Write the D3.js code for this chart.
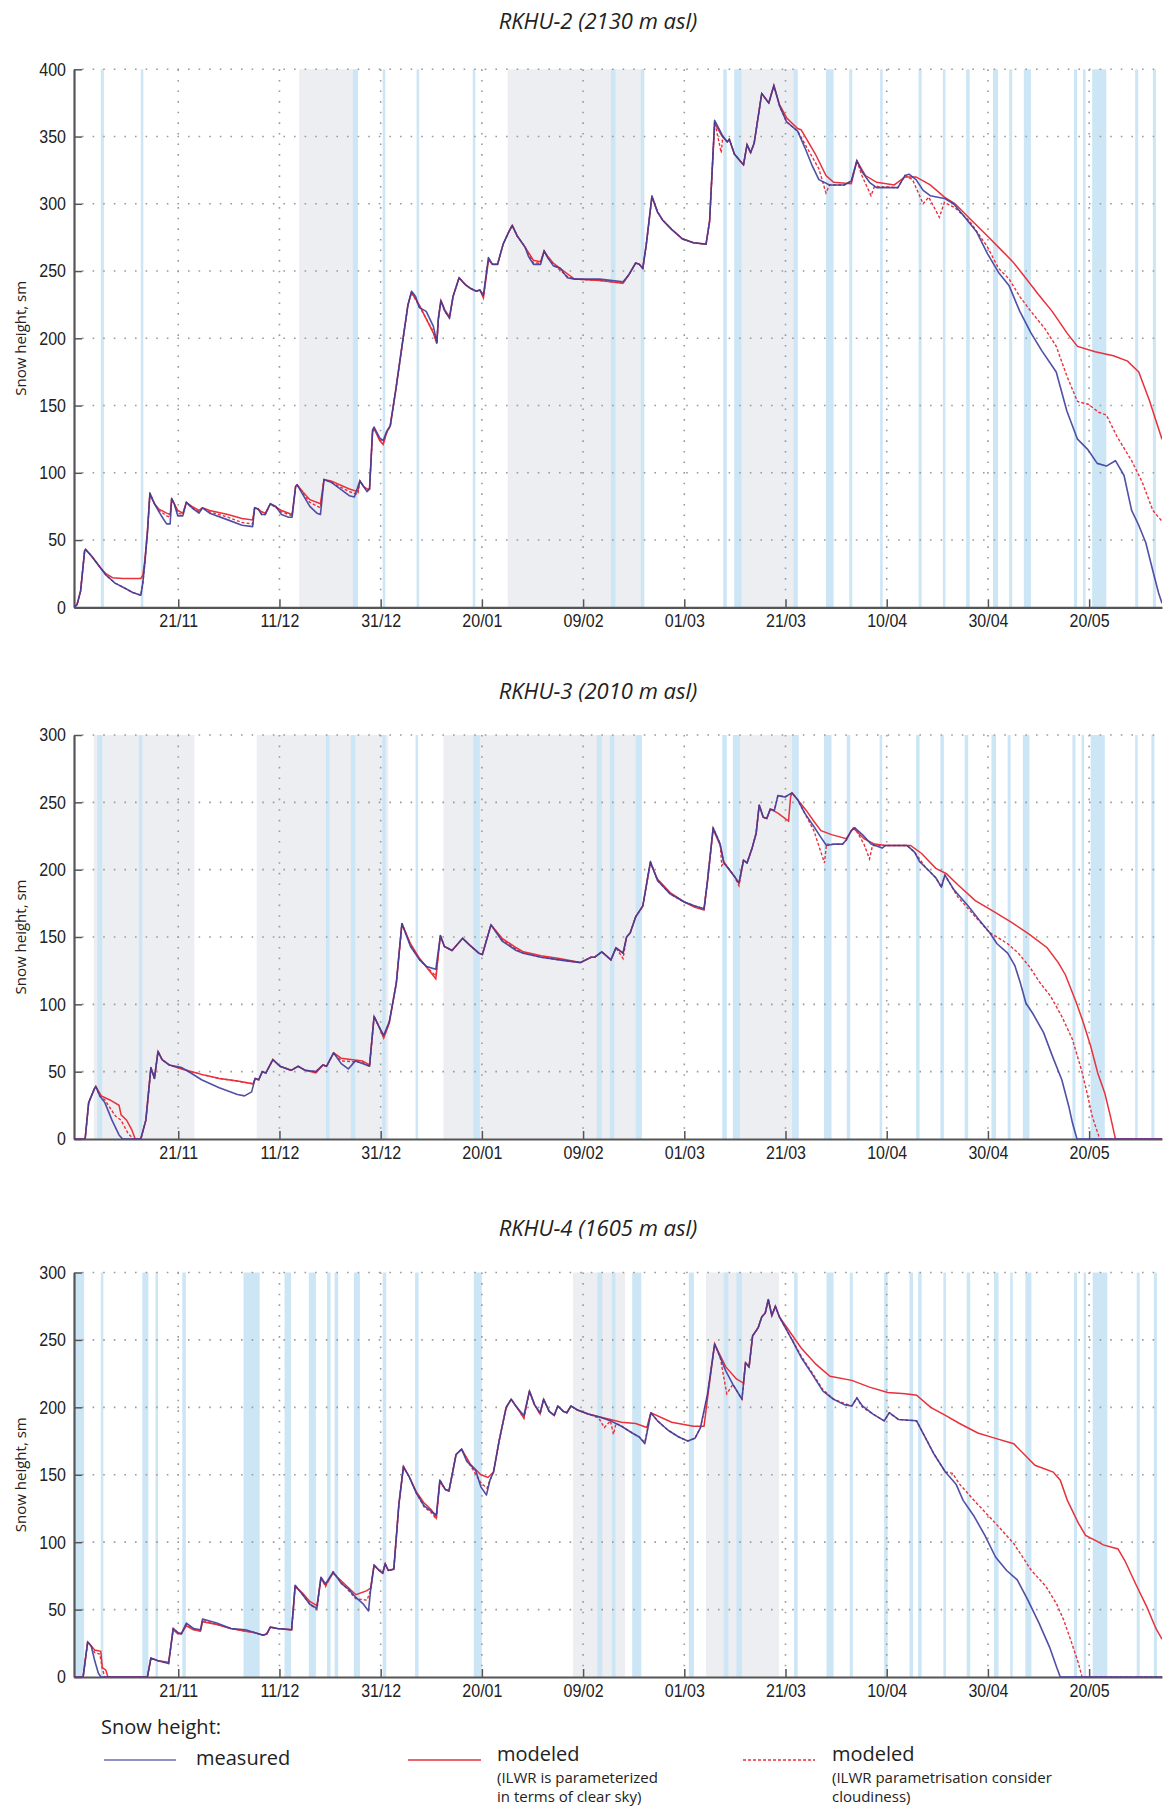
<!DOCTYPE html>
<html>
<head>
<meta charset="utf-8">
<script src="https://cdn.jsdelivr.net/npm/d3@7"></script>
<style>
  html, body { margin: 0; padding: 0; background: #fff; }
  svg { display: block; }
</style>
</head>
<body>
<div id="chart"></div>
<script>
// Snow height at three RKHU stations, measured vs. two model runs.
// x values are days since 1 November, y values are snow height (sm).

const SEASON_START = Date.UTC(2012, 10, 1);
const X_RANGE_DAYS = [-0.6, 214.4];
const TICK_DATES = ["2012-11-21", "2012-12-11", "2012-12-31", "2013-01-20", "2013-02-09",
                    "2013-03-01", "2013-03-21", "2013-04-10", "2013-04-30", "2013-05-20"];

const TITLES = ["RKHU-2 (2130 m asl)", "RKHU-3 (2010 m asl)", "RKHU-4 (1605 m asl)"];
const Y_MAX  = [400, 300, 300];

// ---- RKHU-2 ----
const rkhu2Measured = [[-0.6,0],[0,2],[0.7,12],[1.5,42],[1.7,43],[2.9,38],[4.5,30],[5.7,24],[7.5,18],[9.3,14.5],[11,11],[12.6,9],[13,18],[13.4,33],[13.9,55],[14.4,85],[15.3,77],[16.2,71],[17,66],[17.7,62],[18.4,62],[18.7,81],[19.2,77],[19.9,68],[20.9,68],[21.6,78],[22.7,74],[24.1,70],[24.8,74],[26.2,70],[29.8,65],[32.6,61],[34.7,60],[35.1,74],[35.8,73],[36.5,69],[37.2,69],[38.2,77],[39.3,75],[40.4,69],[41.8,67],[42.5,67],[43.2,90],[43.5,91],[44.6,84],[46,75],[47.4,70],[48.1,69],[48.8,95],[50.2,93],[52.4,87],[53.8,83],[54.8,82],[55.9,94],[56.6,90],[57.3,86],[57.8,88],[58.4,132],[58.7,134],[59.8,126],[60.5,124],[61.2,131],[61.9,135],[63,162],[64.4,199],[65.4,225],[66.1,235],[66.9,231],[67.6,223],[69,220],[70.4,209],[71.1,197],[71.4,215],[71.9,228],[72.7,220],[73.6,215],[74.3,231],[75.5,245],[76.7,240],[77.8,237],[78.9,235],[79.6,236],[80.3,232],[81.3,260],[82.1,255],[83.1,255],[84.2,270],[85.3,279],[86,284],[87,276],[88.5,268],[89.2,261],[90.2,255],[91.6,255],[92.3,265],[93,260],[94.1,254],[95.5,252],[96.9,245],[98.3,244],[103.3,244],[107.9,242],[109,247],[110.4,256],[111.1,255],[111.8,252],[112.5,270],[113.6,306],[114.7,294],[115.7,288],[117.5,281],[119.6,274],[121.8,271],[124.3,270],[125,287],[126,362],[127.5,351],[128.5,346],[128.9,348],[129.9,337],[131,332],[131.7,329],[132.4,344],[133.1,338],[133.8,345],[135.3,382],[136.7,375],[137.7,388],[138.8,373],[140.2,361],[142.4,354],[143.8,342],[145.2,329],[146.6,318],[148.7,314],[151.6,314],[153,317],[154.1,332],[155.1,324],[156.6,316],[158,312],[162.2,312],[163.6,321],[164.4,322],[165.8,318],[167.2,310],[168.6,306],[171.4,304],[173.2,300],[175,292],[177.8,279],[179.9,263],[182.1,249],[184.2,239],[186.3,220],[188.5,204],[190.6,191],[193.5,175],[195.6,146],[197.7,125],[199.8,117],[201.6,107],[203.4,105],[205.2,109],[206.9,98],[208.4,72],[209.8,61],[211.2,48],[212.6,27],[213.7,11],[214.4,3]];

const rkhu2ClearSky = [[-0.6,0],[0,2],[0.7,12],[1.5,42],[1.7,43],[2.9,38],[4.5,30],[5.7,25],[7,22],[9,21.5],[12.6,21.5],[13,24],[13.4,35],[13.9,56],[14.4,84],[15.3,77],[16.2,73],[17.7,70],[18.4,69],[18.7,80],[19.2,77],[19.9,72],[20.9,70],[21.6,78],[22.7,75],[24.1,72],[24.8,74],[26.2,72],[29.8,69],[32.6,66],[34.7,65],[35.1,74],[35.8,73],[36.5,71],[37.2,70],[38.2,77],[40.4,72],[42.5,69],[43.2,90],[43.5,91],[44.6,86],[46,80],[48.1,77],[48.8,95],[50.2,94],[53.8,88],[55.5,86],[55.9,94],[56.6,90],[57.3,88],[57.8,88],[58.4,130],[58.7,133],[59.8,124],[60.5,121],[61.2,130],[61.9,135],[63,162],[64.4,199],[65.4,225],[66.1,234],[67.6,225],[70.4,204],[71.1,196],[71.4,214],[71.9,228],[72.7,221],[73.6,216],[74.3,231],[75.5,245],[76.7,240],[77.8,237],[78.9,235],[79.6,236],[80.3,230],[81.3,258],[82.1,255],[83.1,255],[84.2,270],[85.3,279],[86,284],[87,276],[88.5,268],[90.2,258],[91.6,257],[92.3,265],[93,261],[94.1,256],[96.9,248],[98.3,244],[103.3,243],[107.9,241],[109,247],[110.4,256],[111.1,255],[111.8,252],[112.5,270],[113.6,305],[114.7,294],[115.7,288],[117.5,281],[119.6,274],[121.8,271],[124.3,270],[125,287],[126,360],[127.5,350],[128.5,346],[128.9,348],[129.9,337],[131,332],[131.7,329],[132.4,344],[133.1,338],[133.8,345],[135.3,382],[136.7,375],[137.7,388],[138.8,374],[140.2,364],[142.4,356],[143.1,355],[145.9,337],[148,321],[149.5,316],[153,315],[154.1,332],[155.8,321],[158,316],[161.5,314],[163.6,320],[165.8,320],[168.6,314],[171.4,305],[173.5,300],[176.4,289],[179.9,276],[182.8,265],[184.9,257],[187,247],[189.9,233],[192.7,220],[195.6,204],[197.7,194],[201.2,190],[204.8,187],[207.6,183],[209.8,175],[211.9,154],[214.4,125]];

const rkhu2Cloudy = [[-0.6,0],[0,2],[0.7,12],[1.5,42],[1.7,43],[2.9,38],[4.5,30],[5.7,24],[7.5,18],[9.3,14.5],[11,11],[12.6,9],[13,18],[13.4,33],[13.9,55],[14.4,85],[15.3,77],[16.2,72],[17.7,68],[18.4,67],[18.7,81],[19.2,77],[19.9,70],[20.9,69],[21.6,78],[22.7,74],[24.1,71],[24.8,74],[26.2,71],[29.8,67],[32.6,63],[34.7,62],[35.1,74],[35.8,73],[36.5,69],[37.2,69],[38.2,77],[40.4,71],[42.5,68],[43.2,90],[43.5,91],[44.6,85],[46,78],[48.1,74],[48.8,95],[50.2,93],[53.8,86],[55.5,84],[55.9,94],[56.6,90],[57.3,87],[57.8,88],[58.4,131],[58.7,133],[59.8,125],[60.5,122],[61.2,130],[61.9,135],[63,162],[64.4,199],[65.4,225],[66.1,234],[67.6,224],[70.4,205],[71.1,197],[71.4,214],[71.9,228],[72.7,220],[73.6,215],[74.3,231],[75.5,245],[76.7,240],[77.8,237],[78.9,235],[79.6,236],[80.3,231],[81.3,259],[82.1,255],[83.1,255],[84.2,270],[85.3,279],[86,284],[87,276],[88.5,268],[90.2,256],[91.6,256],[92.3,265],[93,260],[94.1,255],[96.9,246],[98.3,244],[103.3,243],[107.9,241],[109,247],[110.4,256],[111.1,255],[111.8,252],[112.5,270],[113.6,305],[114.7,294],[115.7,288],[117.5,281],[119.6,274],[121.8,271],[124.3,270],[125,287],[126,361],[127.3,338],[127.6,350],[128.5,346],[128.9,348],[129.9,337],[131,332],[131.7,329],[132.4,344],[133.1,338],[133.8,345],[135.3,382],[136.7,375],[137.7,388],[138.8,373],[140.2,361],[142.4,354],[144.5,340],[146.6,326],[148,308],[148.7,314],[151.6,314],[153,317],[154.1,332],[155.1,321],[156.9,306],[157.6,313],[162.2,312],[163.6,321],[165.1,318],[167.2,300],[168.3,305],[170.4,290],[171.4,301],[173.5,297],[176.4,287],[179.9,268],[182.1,252],[184.2,244],[186.3,231],[188.5,220],[191.3,207],[193.5,194],[195.6,172],[197.7,153],[199.8,151],[201.9,145],[203.4,143],[205.5,127],[208.4,109],[210.5,93],[212.6,72],[214.4,64]];

const rkhu2Precip = [[4.7,5.3],[12.6,13.1],[54.5,55.5],[60.4,60.9],[67.1,67.6],[78.2,78.7],[105.5,106.4],[111.4,112.1],[127.7,128.4],[129.9,131.3],[141.6,142.4],[148,149.5],[152.6,153.2],[158.7,159.2],[166.3,166.9],[171.1,171.6],[175.7,176.4],[181,182],[184.2,184.8],[187.1,188.5],[197,197.6],[198.8,199.3],[200.6,203.4],[209.1,209.7],[212.6,213.2]];
const rkhu2Overcast = [[43.9,54.6],[85.1,111.7],[129.9,142.4]];

// ---- RKHU-3 ----
const rkhu3Measured = [[-0.6,0],[1.6,0],[2.3,27],[3.4,37],[3.7,39],[4.5,32],[5.5,27],[6.9,14],[8.3,3],[9,0],[12.6,0],[13.6,14],[14.6,53],[15.3,45],[16,65],[16.8,59],[18.2,55],[20.7,53],[22.5,49],[24.6,44],[28.1,38],[31.7,33],[33.1,32],[34.5,35],[35.2,45],[35.9,44],[36.6,50],[37.3,49],[38.7,59],[40.1,54],[42.3,51],[43.7,54],[45.1,51],[47.2,50],[48.6,55],[49.3,54],[50.7,64],[52.2,56],[53.6,52],[55,58],[56.4,56],[57.8,54],[58.7,91],[59.6,84],[60.6,77],[61.7,87],[63.1,116],[64.2,160],[65.9,143],[67.7,133],[69.1,128],[70.9,126],[71.8,151],[72.6,143],[74.1,140],[76.2,149],[77.6,144],[79.4,138],[80.1,137],[81.8,159],[84,147],[86.8,140],[88.2,138],[91.7,135],[95.3,133],[99.5,131],[101.6,135],[102.3,135],[103.7,139],[105.5,133],[106.5,142],[107.9,138],[108.6,150],[109.3,153],[110.4,165],[111.1,169],[111.8,173],[113.3,206],[114.7,192],[117.2,182],[120,176],[122.1,173],[123.9,171],[124.6,192],[125.7,231],[127.1,219],[127.8,205],[128.5,202],[129.9,195],[130.8,190],[131.7,207],[132.4,205],[133.4,216],[134.2,227],[134.8,248],[135.6,239],[136.3,238],[137,245],[137.8,244],[138.5,255],[139.9,254],[141.3,257],[142.4,252],[143.8,242],[145.6,232],[147,224],[148.1,218],[149.8,219],[151.3,219],[152,222],[153,229],[153.7,231],[155.2,226],[156.9,219],[159.1,216],[159.8,218],[164,218],[165.5,213],[166.5,206],[167.6,202],[169.7,194],[170.8,187],[171.5,196],[173.3,185],[176.1,173],[178.2,163],[180.4,153],[181.8,145],[183.9,138],[185.3,129],[186.4,116],[187.5,101],[188.9,93],[191,79],[192.8,61],[194.6,44],[196,24],[196.7,12],[197.6,0],[214.4,0]];

const rkhu3ClearSky = [[-0.6,0],[1.6,0],[2.3,27],[3.4,37],[3.7,39],[4.8,32],[6.5,29],[8.3,25],[8.7,18],[9.8,14],[10.8,7],[11.5,0],[12.6,0],[13.6,14],[14.6,53],[15.3,45],[16,65],[16.8,59],[18.2,55],[20.7,52],[24.6,48],[28.1,45],[31.7,43],[34.8,41],[35.2,45],[35.9,44],[36.6,50],[37.3,49],[38.7,59],[40.1,54],[42.3,51],[43.7,54],[45.1,51],[47.2,49],[48.6,55],[49.3,54],[50.7,64],[52.2,60],[56.4,58],[57.8,55],[58.7,91],[59.6,84],[60.6,75],[61.7,86],[63.1,116],[64.2,160],[65.9,145],[67.7,134],[70.9,119],[71.8,151],[72.6,143],[74.1,140],[76.2,149],[77.6,144],[79.4,138],[80.1,137],[81.8,159],[84,149],[86.8,142],[88.2,139],[91.7,136],[95.3,134],[99.5,131],[101.6,135],[102.3,135],[103.7,139],[105.5,133],[106.5,142],[107.9,138],[108.6,150],[109.3,153],[110.4,165],[111.1,169],[111.8,173],[113.3,205],[114.7,193],[117.2,183],[120,176],[122.1,172],[123.9,170],[124.6,192],[125.7,230],[127.1,218],[127.8,206],[128.5,202],[129.9,195],[130.8,190],[131.7,207],[132.4,205],[133.4,216],[134.2,227],[134.8,248],[135.6,239],[136.3,238],[137,245],[138.5,242],[140.6,236],[141,254],[141.3,257],[142.4,252],[144.1,244],[145.6,236],[147,229],[149.1,226],[152,223],[153.4,231],[155.5,223],[157.6,219],[159.8,218],[164.7,218],[166.9,212],[169.7,201],[171.8,197],[174,189],[177.5,177],[181.1,169],[184.6,161],[188.2,152],[191.7,142],[193.9,131],[195.3,122],[197.4,102],[198.8,87],[200.3,69],[201.7,49],[203.1,34],[204.2,17],[205.2,0],[214.4,0]];

const rkhu3Cloudy = [[-0.6,0],[1.6,0],[2.3,27],[3.4,37],[3.7,39],[4.5,32],[5.5,29],[7.6,17],[8.7,14],[10.1,4],[11.2,0],[12.6,0],[13.6,14],[14.6,53],[15.3,45],[16,65],[16.8,59],[18.2,55],[20.7,52],[24.6,48],[28.1,45],[31.7,43],[34.8,41],[35.2,45],[35.9,44],[36.6,50],[37.3,49],[38.7,59],[40.1,54],[42.3,51],[43.7,54],[45.1,51],[47.2,50],[48.6,55],[49.3,54],[50.7,64],[52.2,58],[56.4,57],[57.8,54],[58.7,91],[59.6,84],[60.6,76],[61.7,87],[63.1,116],[64.2,160],[65.9,144],[67.7,133],[70.9,121],[71.8,151],[72.6,143],[74.1,140],[76.2,149],[77.6,144],[79.4,138],[80.1,137],[81.8,159],[84,148],[86.8,141],[88.2,138],[91.7,135],[95.3,133],[99.5,131],[101.6,135],[102.3,135],[103.7,139],[105.5,133],[106.5,142],[107.9,134],[108.6,150],[109.3,153],[110.4,165],[111.1,169],[111.8,173],[113.3,206],[114.7,192],[117.2,182],[120,176],[122.1,173],[123.9,171],[124.6,192],[125.7,231],[127.1,219],[127.4,203],[127.8,205],[128.5,202],[129.9,195],[130.8,188],[131.7,207],[132.4,205],[133.4,216],[134.2,227],[134.8,248],[135.6,239],[136.3,238],[137,245],[137.8,244],[138.5,255],[139.9,254],[141.3,257],[142.4,252],[145.6,229],[147.7,205],[148.1,219],[151.3,219],[152,222],[153,229],[153.7,231],[155.5,219],[156.6,208],[157.2,218],[159.8,218],[164,218],[165.5,213],[167.6,202],[169.7,194],[170.8,187],[171.5,196],[174,180],[177.5,165],[180.4,153],[181.8,150],[183.9,145],[186,138],[188.2,128],[190.3,116],[192.4,106],[194.6,91],[196.7,74],[198.5,51],[199.6,34],[200.6,17],[202.1,0],[214.4,0]];

const rkhu3Precip = [[4,5],[12.2,12.9],[49.2,49.9],[54.1,55],[60.3,61],[66.9,67.4],[78.3,79.6],[102.7,103.7],[105.3,106.2],[110.4,111.6],[127.5,128.4],[129.6,131],[141.3,142.6],[147.6,149.1],[152.1,152.8],[158.6,159.1],[165.8,166.5],[170.6,171.3],[175.4,176.1],[180.7,181.6],[183.9,184.5],[186.9,188.2],[196.7,197.3],[198.5,199],[200.3,203.1],[209.1,209.6],[212.3,212.9]];
const rkhu3Overcast = [[3.3,23.2],[35.5,61.5],[72.4,111.6],[129.6,142.6]];

// ---- RKHU-4 ----
const rkhu4Measured = [[-0.6,0],[1.2,0],[2.1,26],[2.8,23],[3.5,12],[4.2,3],[4.7,0],[13.9,0],[14.6,14],[16,12],[18.1,10],[19,36],[19.9,33],[20.6,32],[21.6,40],[23,36],[24.4,35],[24.8,43],[27.6,40],[30.4,36],[33.3,35],[35,33],[36.8,31],[37.5,32],[38.2,37],[39.6,36],[42.4,35],[43.1,68],[44.6,61],[46,54],[47.4,51],[48.2,74],[49.1,69],[50.6,78],[52.3,69],[53.7,65],[55.1,59],[56.6,54],[57.6,49],[58,64],[58.7,83],[59.7,79],[60.4,77],[60.9,84],[61.5,79],[62.6,80],[63.6,128],[64.5,156],[65.7,148],[67.1,136],[68.6,127],[70,123],[71,120],[71.7,146],[72.8,139],[73.5,138],[74.9,165],[76,169],[77,160],[78.8,153],[79.8,141],[80.9,135],[81.6,146],[82.3,152],[83.4,175],[84.8,200],[85.8,206],[86.9,200],[88.3,194],[89.4,212],[90.4,202],[91.5,196],[92.2,206],[93.3,197],[94.3,194],[95,201],[96.1,197],[96.8,196],[97.6,201],[98.9,198],[101,195],[103.1,193],[105.4,190],[107.6,186],[109.7,181],[111.1,178],[112.2,173],[113.4,196],[114.7,190],[116.8,183],[118.9,178],[120.7,175],[122.1,177],[123.2,185],[124.6,210],[126,247],[127.1,237],[128.2,227],[129.6,217],[131.4,206],[132.1,233],[132.8,230],[133.5,253],[134.6,259],[135.3,267],[136,270],[136.6,280],[137.3,268],[138,275],[138.8,267],[141,252],[143.1,237],[145.2,225],[147.4,212],[149.5,206],[151.6,202],[153.1,201],[154.1,207],[155.2,201],[157.3,195],[159.5,190],[160.5,196],[162.3,191],[165.9,190],[167.3,180],[169.4,165],[171.6,152],[173.7,143],[175.1,131],[177.3,119],[179.4,105],[181.5,89],[183.7,79],[185.8,72],[187.9,57],[190.1,40],[192.2,22],[193.6,7],[194.3,0],[214.4,0]];

const rkhu4ClearSky = [[-0.6,0],[1.2,0],[2.1,26],[2.8,23],[3.5,20],[4.7,19],[5,7],[5.7,5],[6.1,0],[13.9,0],[14.6,14],[16,12],[18.1,11],[19,35],[19.9,32],[20.6,32],[21.6,38],[23,35],[24.4,34],[24.8,41],[27.6,39],[30.4,36],[33.3,34],[35,33],[36.8,31],[37.5,32],[38.2,37],[39.6,36],[42.4,35],[43.1,67],[44.6,62],[46,56],[47.4,53],[48.2,73],[49.1,68],[50.6,77],[52.3,71],[55.1,61],[57.3,64],[58,66],[58.7,83],[59.7,79],[60.4,77],[60.9,84],[61.5,79],[62.6,80],[63.6,128],[64.5,156],[65.7,148],[67.1,137],[68.6,129],[70,124],[71,118],[71.7,145],[72.8,139],[73.5,138],[74.9,165],[76,169],[77.7,158],[79.8,150],[81.2,148],[82.3,152],[83.4,175],[84.8,200],[85.8,206],[86.9,200],[88.3,192],[89.4,212],[90.4,202],[91.5,195],[92.2,206],[93.3,197],[94.3,194],[95,201],[96.1,197],[96.8,196],[97.6,201],[98.9,198],[101,195],[103.1,193],[105.4,191],[107.6,189],[110.4,188],[112.6,185],[113.4,196],[117.5,189],[121.8,186],[123.9,186],[124.6,207],[126,247],[128.2,230],[130.3,221],[131.7,218],[132.1,233],[132.8,230],[133.5,253],[134.6,259],[135.3,267],[136,270],[136.6,280],[137.3,268],[138,275],[138.8,267],[140.3,259],[143.1,244],[146,232],[148.8,223],[153.1,220],[156.6,215],[160.2,211],[163.7,210],[165.9,209],[168.7,200],[171.6,194],[174.4,188],[178,181],[181.5,177],[185.1,173],[187.2,165],[189.3,157],[192.9,152],[194.3,146],[195.7,131],[197.9,114],[199.3,105],[201.4,101],[202.8,98],[205.7,95],[207.1,86],[209.2,69],[211.4,52],[213.2,36],[214.4,28]];

const rkhu4Cloudy = [[-0.6,0],[1.2,0],[2.1,26],[2.8,23],[3.5,18],[4.5,17],[5,6],[5.5,0],[13.9,0],[14.6,14],[16,12],[18.1,10],[19,36],[19.9,33],[20.6,32],[21.6,39],[23,36],[24.4,34],[24.8,42],[27.6,39],[30.4,36],[33.3,34],[35,33],[36.8,31],[37.5,32],[38.2,37],[39.6,36],[42.4,35],[43.1,68],[44.6,61],[46,54],[47.4,50],[48.2,74],[49.1,67],[50.6,78],[52.3,70],[55.1,58],[57.3,57],[58,64],[58.7,83],[59.7,79],[60.4,77],[60.9,84],[61.5,79],[62.6,80],[63.6,128],[64.5,156],[65.7,148],[67.1,136],[68.6,126],[70,122],[71,117],[71.7,146],[72.8,139],[73.5,138],[74.9,165],[76,169],[77.7,157],[79.8,144],[81,140],[81.6,146],[82.3,152],[83.4,175],[84.8,200],[85.8,206],[86.9,200],[88.3,192],[89.4,212],[90.4,202],[91.5,195],[92.2,206],[93.3,197],[94.3,194],[95,201],[96.1,197],[96.8,196],[97.6,201],[98.9,198],[101,195],[103.1,192],[104.2,185],[105.4,190],[106,180],[106.5,188],[107.6,186],[109.7,181],[111.1,178],[112.2,174],[113.4,196],[114.7,190],[116.8,183],[118.9,178],[120.7,175],[122.1,177],[123.2,185],[124.6,210],[126,247],[127.1,237],[128.4,210],[129.6,217],[131.4,206],[132.1,233],[132.8,230],[133.5,253],[134.6,259],[135.3,267],[136,270],[136.6,280],[137.3,268],[138,275],[138.8,267],[141,252],[143.1,238],[145.2,226],[147.4,213],[149.5,206],[151.6,203],[153.1,201],[154.1,207],[155.2,200],[157.3,195],[159.5,190],[160.5,196],[162.3,191],[165.9,190],[167.3,180],[169.4,165],[171.6,152],[173,151],[174.4,143],[178,128],[181.5,114],[185.1,99],[188.6,79],[191.5,67],[193.6,54],[195,42],[196.4,27],[197.9,10],[198.6,0],[214.4,0]];

const rkhu4Precip = [[-0.6,1.4],[4.7,5.2],[12.9,14.1],[15.5,16],[20.8,21.5],[32.9,36.1],[41,42.3],[45.8,47.2],[49.4,50.1],[50.9,51.6],[54.7,55.9],[60.4,61.1],[66.8,67.5],[78.4,80],[102.8,103.8],[105.7,106.4],[109.7,111.5],[120.9,121.9],[127.8,128.7],[130.3,131.4],[141.7,142.4],[148.1,149.5],[152.7,153.3],[159.5,160.2],[164.5,165.2],[166.2,166.9],[171.2,171.7],[175.8,176.5],[181.2,182.1],[184.4,184.9],[187.4,188.6],[197,197.6],[198.9,199.4],[200.7,203.6],[209.4,210],[212.8,213.4]];
const rkhu4Overcast = [[98,108.3],[124.3,138.7]];

const LEGEND_HEADING = "Snow height:";
const LEGEND_LABELS  = ["measured", "modeled", "modeled"];
const LEGEND_NOTES   = [[], ["(ILWR is parameterized", "in terms of clear sky)"],
                        ["(ILWR parametrisation consider", "cloudiness)"]];

// ---- layout / style ----
const W = 1164, H = 1807;
const PLOT_LEFT = 74, PLOT_RIGHT = 1162;
const COLORS = {
  measured: "#3c3d9c", modeled: "#e8313b", precip: "#cde6f6",
  overcast: "#eceef1", grid: "#9a9a9a", axis: "#555", text: "#222"
};
const FONT_TICK  = "'Liberation Sans', Arial, sans-serif";
const FONT_LABEL = "'Open Sans', 'Noto Sans', sans-serif";
const TICK_STRETCH = "scale(1,1.15)";

const PANELS = [
  { top: 69.3,  bottom: 607.3, titleY: 23,   measured: rkhu2Measured, clear: rkhu2ClearSky, cloudy: rkhu2Cloudy, precip: rkhu2Precip, overcast: rkhu2Overcast },
  { top: 735,   bottom: 1139,  titleY: 693,  measured: rkhu3Measured, clear: rkhu3ClearSky, cloudy: rkhu3Cloudy, precip: rkhu3Precip, overcast: rkhu3Overcast },
  { top: 1272.5,bottom: 1677,  titleY: 1230, measured: rkhu4Measured, clear: rkhu4ClearSky, cloudy: rkhu4Cloudy, precip: rkhu4Precip, overcast: rkhu4Overcast },
];

const day = d => new Date(SEASON_START + d * 864e5);
const parseDate = d3.utcParse("%Y-%m-%d");
const fmt = d3.utcFormat("%d/%m");

const svg = d3.select("#chart").append("svg")
  .attr("width", W).attr("height", H)
  .attr("viewBox", `0 0 ${W} ${H}`);

const x = d3.scaleUtc()
  .domain(X_RANGE_DAYS.map(day))
  .range([PLOT_LEFT, PLOT_RIGHT]);

const tickDates = TICK_DATES.map(parseDate);

PANELS.forEach((p, i) => {
  const yMax = Y_MAX[i];
  const y = d3.scaleLinear().domain([0, yMax]).range([p.bottom, p.top]);
  const g = svg.append("g");

  const clipId = `clip-${i}`;
  svg.append("clipPath").attr("id", clipId)
    .append("rect")
      .attr("x", PLOT_LEFT).attr("y", p.top - 2)
      .attr("width", PLOT_RIGHT - PLOT_LEFT).attr("height", p.bottom - p.top + 2);

  // overcast periods (grey) and precipitation days (blue)
  g.selectAll(".overcast").data(p.overcast).join("rect")
    .attr("x", d => x(day(d[0])))
    .attr("width", d => x(day(d[1])) - x(day(d[0])))
    .attr("y", p.top).attr("height", p.bottom - p.top)
    .attr("fill", COLORS.overcast);

  g.selectAll(".precip").data(p.precip).join("rect")
    .attr("clip-path", `url(#${clipId})`)
    .attr("x", d => x(day(d[0])))
    .attr("width", d => Math.max(2, x(day(d[1])) - x(day(d[0]))))
    .attr("y", p.top).attr("height", p.bottom - p.top)
    .attr("fill", COLORS.precip);

  // dotted grid
  const yTicks = d3.range(0, yMax + 1, 50);
  g.selectAll(".hgrid").data(yTicks.filter(t => t > 0)).join("line")
    .attr("x1", PLOT_LEFT + 8).attr("x2", PLOT_RIGHT)
    .attr("y1", d => y(d)).attr("y2", d => y(d))
    .attr("stroke", COLORS.grid).attr("stroke-width", 1.6)
    .attr("stroke-dasharray", "1.6,9");

  g.selectAll(".vgrid").data(tickDates).join("line")
    .attr("x1", d => x(d)).attr("x2", d => x(d))
    .attr("y1", p.top).attr("y2", p.bottom - 8)
    .attr("stroke", COLORS.grid).attr("stroke-width", 1.6)
    .attr("stroke-dasharray", "1.6,9");

  // axes
  const xAxis = g.append("g")
    .attr("transform", `translate(0,${p.bottom})`)
    .call(d3.axisBottom(x).tickValues(tickDates).tickFormat(fmt)
      .tickSizeInner(-8).tickSizeOuter(0).tickPadding(6));
  xAxis.select(".domain").attr("stroke", COLORS.axis).attr("stroke-width", 2.2);
  xAxis.selectAll(".tick line").attr("stroke", COLORS.axis).attr("stroke-width", 1.5);
  xAxis.selectAll("text")
    .attr("fill", COLORS.text).attr("font-size", "16px")
    .attr("font-family", FONT_TICK)
    .attr("transform", TICK_STRETCH);

  const yAxis = g.append("g")
    .attr("transform", `translate(${PLOT_LEFT},0)`)
    .call(d3.axisLeft(y).tickValues(yTicks)
      .tickSizeInner(-8).tickSizeOuter(0).tickPadding(8));
  yAxis.select(".domain").attr("stroke", COLORS.axis).attr("stroke-width", 2.2);
  yAxis.selectAll(".tick line").attr("stroke", COLORS.axis).attr("stroke-width", 1.5);
  yAxis.selectAll("text")
    .attr("fill", COLORS.text).attr("font-size", "16px")
    .attr("font-family", FONT_TICK)
    .attr("transform", TICK_STRETCH);

  g.append("text")
    .attr("transform", `translate(22,${(p.top + p.bottom) / 2}) rotate(-90)`)
    .attr("text-anchor", "middle")
    .attr("dominant-baseline", "middle")
    .attr("fill", COLORS.text)
    .attr("font-size", "15px")
    .attr("font-family", FONT_LABEL)
    .text("Snow height, sm");

  g.append("text")
    .attr("x", 598).attr("y", p.titleY)
    .attr("text-anchor", "middle")
    .attr("dominant-baseline", "middle")
    .attr("fill", COLORS.text)
    .attr("font-size", "22px")
    .attr("font-style", "italic")
    .attr("font-family", FONT_LABEL)
    .text(TITLES[i]);

  // series
  const line = d3.line()
    .x(d => x(day(d[0])))
    .y(d => y(d[1]));

  const lines = g.append("g").attr("clip-path", `url(#${clipId})`);
  lines.append("path").datum(p.cloudy)
    .attr("d", line).attr("fill", "none")
    .attr("stroke", COLORS.modeled).attr("stroke-width", 1.4)
    .attr("stroke-dasharray", "3,2");
  lines.append("path").datum(p.clear)
    .attr("d", line).attr("fill", "none")
    .attr("stroke", COLORS.modeled).attr("stroke-width", 1.5);
  lines.append("path").datum(p.measured)
    .attr("d", line).attr("fill", "none")
    .attr("stroke", COLORS.measured).attr("stroke-width", 1.6)
    .attr("stroke-opacity", 0.9)
    .attr("stroke-linejoin", "round");
});

// Legend
const legend = svg.append("g");
legend.append("text")
  .attr("x", 101).attr("y", 1729)
  .attr("dominant-baseline", "middle")
  .attr("fill", COLORS.text).attr("font-size", "20px")
  .attr("font-family", FONT_LABEL)
  .text(LEGEND_HEADING);

const LEGEND_ITEMS = [
  { x0: 104, x1: 176, tx: 196, ty: 1760, color: COLORS.measured, dash: null },
  { x0: 408, x1: 481, tx: 497, ty: 1756, color: COLORS.modeled, dash: null },
  { x0: 743, x1: 815, tx: 832, ty: 1756, color: COLORS.modeled, dash: "3,2" },
];

LEGEND_ITEMS.forEach((it, i) => {
  legend.append("line")
    .attr("x1", it.x0).attr("x2", it.x1)
    .attr("y1", 1760).attr("y2", 1760)
    .attr("stroke", it.color).attr("stroke-width", 1.4)
    .attr("stroke-opacity", i === 0 ? 0.75 : 1)
    .attr("stroke-dasharray", it.dash);
  legend.append("text")
    .attr("x", it.tx).attr("y", it.ty)
    .attr("dominant-baseline", "middle")
    .attr("fill", COLORS.text).attr("font-size", "20px")
    .attr("font-family", FONT_LABEL)
    .text(LEGEND_LABELS[i]);
  LEGEND_NOTES[i].forEach((note, j) => {
    legend.append("text")
      .attr("x", it.tx).attr("y", 1779 + j * 18.5)
      .attr("dominant-baseline", "middle")
      .attr("fill", COLORS.text).attr("font-size", "15px")
      .attr("font-family", FONT_LABEL)
      .text(note);
  });
});
</script>
</body>
</html>
